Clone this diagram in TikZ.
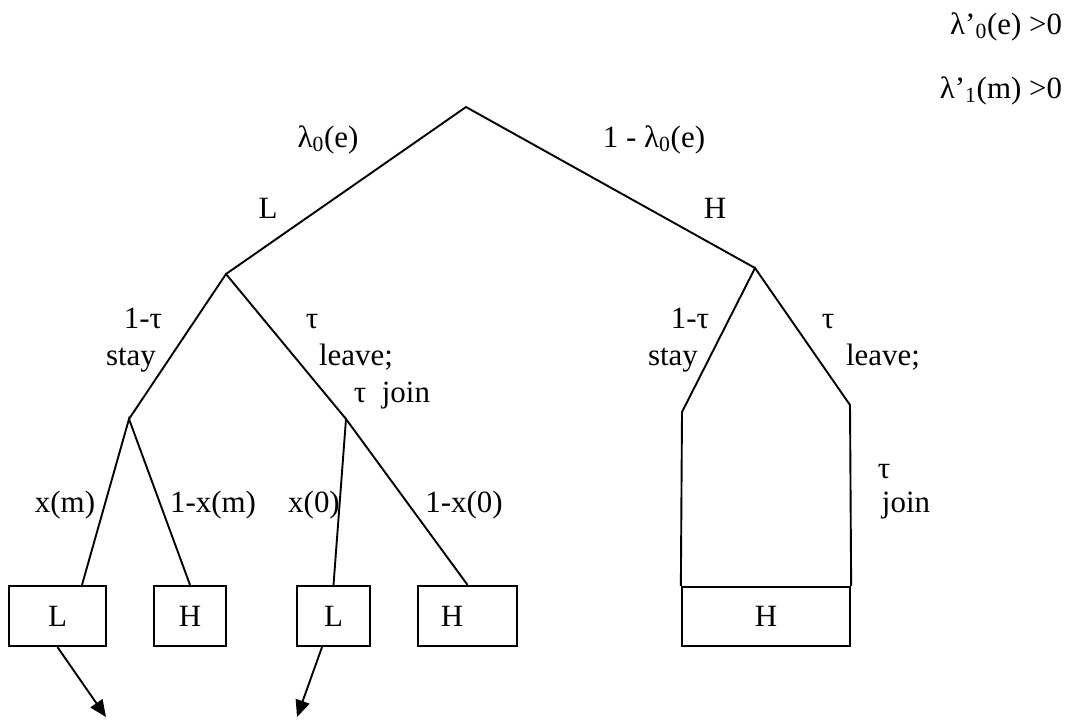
\documentclass[tikz,border=0pt]{standalone}
\usepackage{fontspec}
\setmainfont{Liberation Serif}
\usetikzlibrary{arrows.meta}
\tikzset{
  branch/.style={line width=1.35pt},
  leafbox/.style={draw, line width=1.6pt, minimum height=1.5cm, inner sep=0pt},
  lbl/.style={anchor=base},
  tip/.style={-{Triangle[length=0.42cm,width=0.36cm]}}
}
\begin{document}
\begin{tikzpicture}[x=0.025cm, y=-0.025cm, font=\fontsize{22}{26}\selectfont]
    \useasboundingbox (0,0) rectangle (1076,719);

    % Define points
    \coordinate (root) at (466,107);
    \coordinate (nL) at (226,274);
    \coordinate (nH) at (755,268);
    \coordinate (stayL) at (129,419);
    \coordinate (leaveL) at (346,419);
    \coordinate (stayH) at (682,412);
    \coordinate (leaveH) at (850,405);
    \coordinate (endA) at (106,717);
    \coordinate (endB) at (297,717);

    % Boxes
    \node[leafbox, minimum width=2.425cm] (boxL1) at (57.5,616) {L};
    \node[leafbox, minimum width=1.8cm] (boxH1) at (190,616) {H};
    \node[leafbox, minimum width=1.825cm] (boxL2) at (333.5,616) {L};
    \node[leafbox, minimum width=2.475cm] (boxH2) at (467.5,616) {H\kern0.775cm};
    \node[leafbox, minimum width=4.2cm, minimum height=1.475cm] (boxBig) at (766,616.5) {H};

    % Draw edges
    \draw[branch] (nL) -- (root) -- (nH);
    \draw[branch] (stayL) -- (nL) -- (leaveL);
    \draw[branch] (boxBig.north west) -- (stayH) -- (nH) -- (leaveH) -- (boxBig.north east);
    \draw[branch] ([xshift=0.6125cm]boxL1.north) -- (stayL) -- (boxH1.north);
    \draw[branch] (boxL2.north) -- (leaveL) -- (boxH2.north);
    \draw[branch, tip] (boxL1.south) -- (endA);
    \draw[branch, tip] ([xshift=-0.2875cm]boxL2.south) -- (endB);

    % Labels
    \node[lbl] (lamL) at (328,147) {λ\textsubscript{0}(e)};
    \node[lbl] (lamH) at (654,147) {1 - λ\textsubscript{0}(e)};
    \node[lbl] (labL) at (268,218) {L};
    \node[lbl] (labH) at (715,218) {H};
    \node[lbl] (tauSL) at (143,328) {1-τ};
    \node[lbl] (staySL) at (131,365) {stay};
    \node[lbl] (tauLL) at (312,328) {τ};
    \node[lbl] (leaveLL) at (356,365) {leave;};
    \node[lbl] (joinLL) at (392,402) {τ\ \ join};
    \foreach \x/\name/\txt in {65/xm/x(m), 213/onexm/1-x(m), 314/xz/x(0), 464/onexz/1-x(0)}
        \node[lbl] (\name) at (\x,512) {\txt};
    \node[lbl] (tauSH) at (690,328) {1-τ};
    \node[lbl] (staySH) at (673,365) {stay};
    \node[lbl] (tauLH) at (828,328) {τ};
    \node[lbl] (leaveLH) at (883,365) {leave;};
    \node[lbl, anchor=base west] (tauJH) at (873,478) {τ};
    \node[lbl, anchor=base west] (joinJH) at (877,512) {join};

    % Conditions
    \node[anchor=base east] (condA) at (1067,34) {λ’\textsubscript{0}(e) >0};
    \node[anchor=base east] (condB) at (1067,98) {λ’\textsubscript{1}(m) >0};

\end{tikzpicture}
\end{document}
